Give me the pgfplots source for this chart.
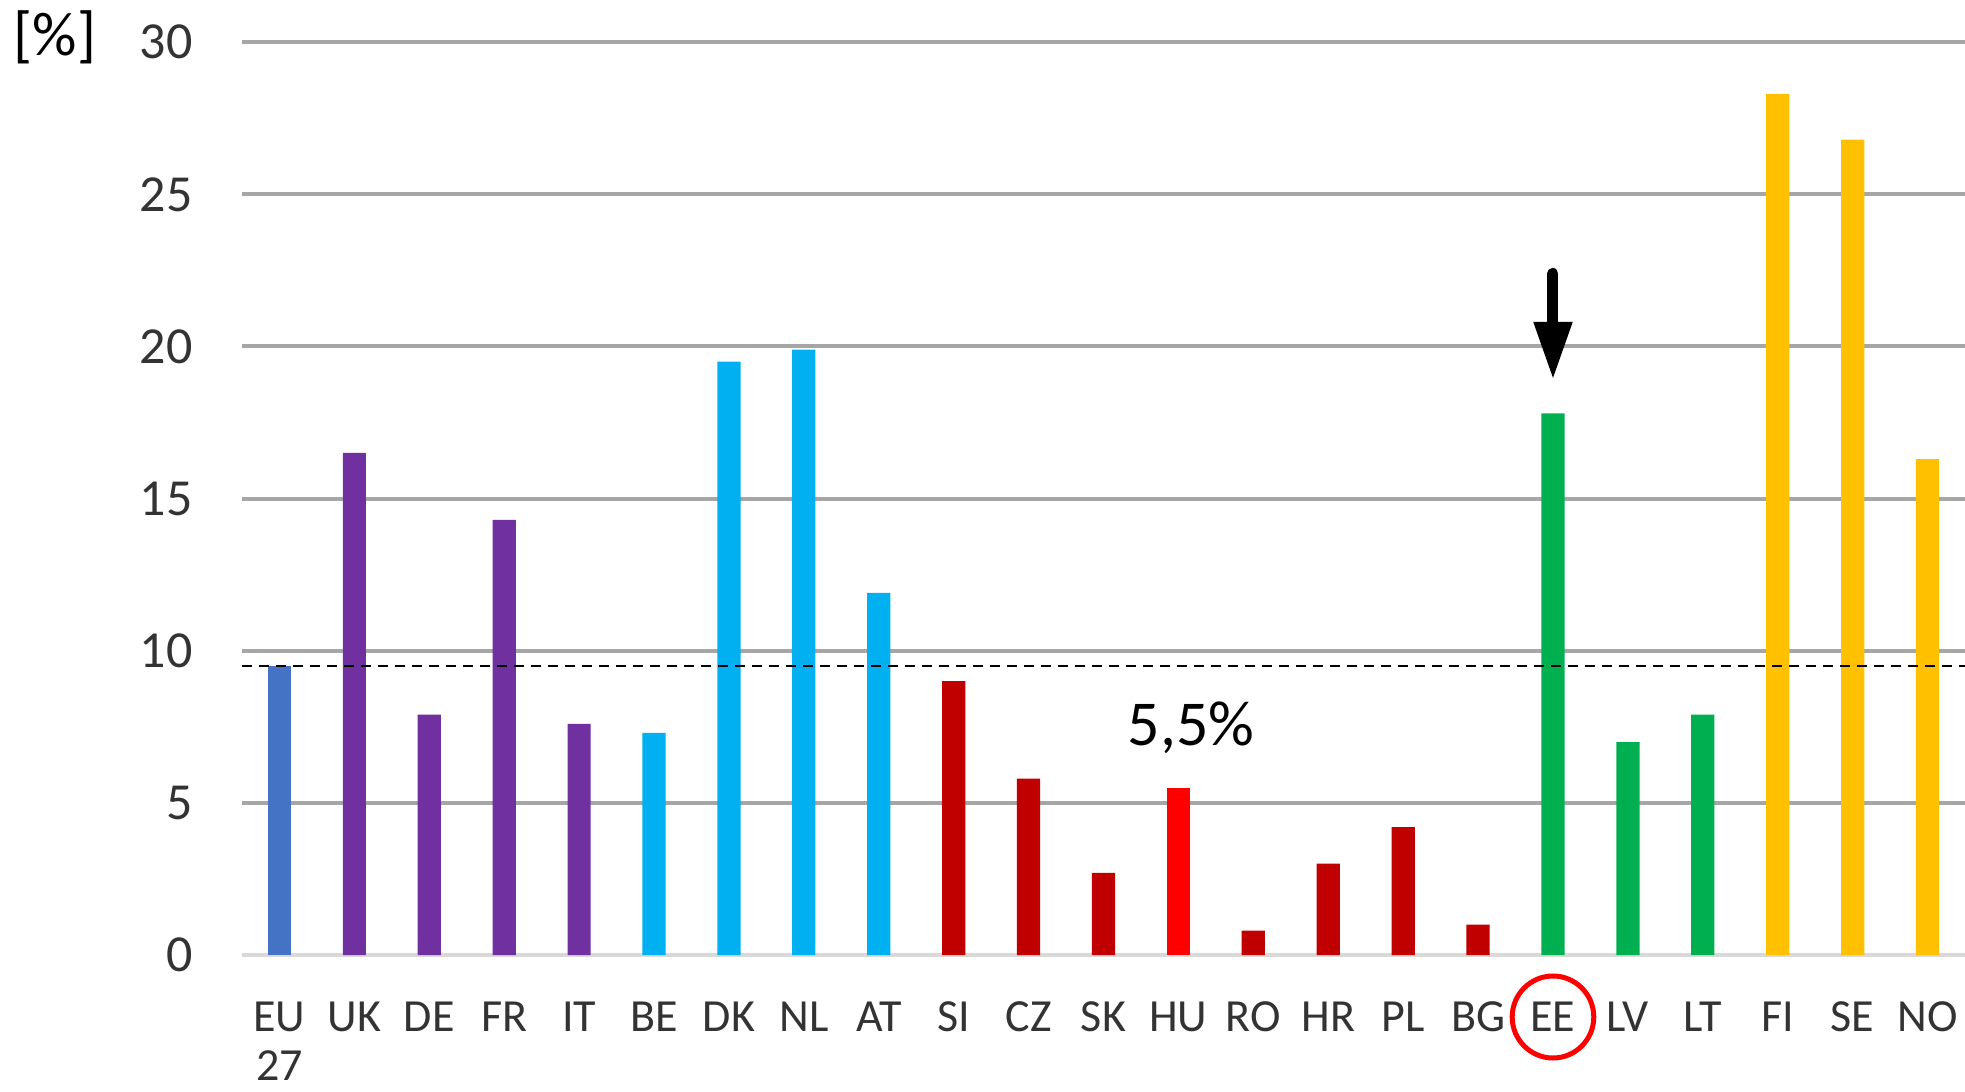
\documentclass[border=0pt]{standalone}
\usepackage{pgfplots}
\pgfplotsset{compat=1.18}
\usepackage{fontspec}
\setmainfont{Carlito}
\usetikzlibrary{arrows.meta}
\definecolor{cEU}{HTML}{4472C4}
\definecolor{cPurple}{HTML}{7030A0}
\definecolor{cBlue}{HTML}{00B0F0}
\definecolor{cDarkRed}{HTML}{C00000}
\definecolor{cRed}{HTML}{FF0000}
\definecolor{cGreen}{HTML}{00B050}
\definecolor{cGold}{HTML}{FFC000}
\definecolor{gridgray}{HTML}{A6A6A6}
\definecolor{basegray}{HTML}{D9D9D9}
\definecolor{ticktext}{HTML}{333333}
\newcommand{\twoline}[2]{\vtop{\baselineskip=24.5pt\lineskiplimit=0pt\halign{\hfil##\hfil\cr #1\cr #2\cr}}}
\begin{document}
\begin{tikzpicture}
\begin{axis}[
  at={(0,0)}, anchor=south west,
  scale only axis, width=861.5pt, height=456.4pt,
  xmin=-0.5, xmax=22.5, ymin=0, ymax=30,
  axis line style={draw=none},
  major tick length=0pt,
  ytick={0,5,...,30},
  ymajorgrids, grid style={color=gridgray, line width=2pt},
  xtick={0,...,22},
  xticklabels={{\twoline{EU}{27}},UK,DE,FR,IT,BE,DK,NL,AT,SI,CZ,SK,HU,RO,HR,PL,BG,EE,LV,LT,FI,SE,NO},
  tick label style={color=ticktext},
  yticklabel style={font=\fontsize{26}{30}\selectfont, anchor=east, inner sep=0pt, xshift=-24.5pt},
  xticklabel style={font=\fontsize{23}{28}\selectfont, anchor=base, inner sep=0pt, yshift=-38pt},
  /pgf/number format/assume math mode=true,
  clip=false,
]
\addplot[draw=basegray, line width=2pt] coordinates {(-0.5,0) (22.5,0)};
\addplot[ybar, bar shift=0pt, bar width=0.31, fill=cEU, draw=none] coordinates {(0,9.5)};
\addplot[ybar, bar shift=0pt, bar width=0.31, fill=cPurple, draw=none] coordinates {(1,16.5) (2,7.9) (3,14.3) (4,7.6)};
\addplot[ybar, bar shift=0pt, bar width=0.31, fill=cBlue, draw=none] coordinates {(5,7.3) (6,19.5) (7,19.9) (8,11.9)};
\addplot[ybar, bar shift=0pt, bar width=0.31, fill=cDarkRed, draw=none] coordinates {(9,9.0) (10,5.8) (11,2.7) (13,0.8) (14,3.0) (15,4.2) (16,1.0)};
\addplot[ybar, bar shift=0pt, bar width=0.31, fill=cRed, draw=none] coordinates {(12,5.5)};
\addplot[ybar, bar shift=0pt, bar width=0.31, fill=cGreen, draw=none] coordinates {(17,17.8) (18,7.0) (19,7.9)};
\addplot[ybar, bar shift=0pt, bar width=0.31, fill=cGold, draw=none] coordinates {(20,28.3) (21,26.8) (22,16.3)};
\addplot[black, line width=1.2pt, dash pattern=on 5pt off 3.5pt] coordinates {(-0.5,9.5) (22.5,9.5)};
\node[font=\fontsize{32}{38}\selectfont, text=black, anchor=base] at (axis cs:12.17,6.9) {5,5\%};
\draw[black, line width=5.5pt, line cap=round, -{Triangle[width=18pt, length=29pt]}] (axis cs:17,22.4) -- (axis cs:17,18.9);
\draw[cRed, line width=2.5pt] ([yshift=-31pt]axis cs:17,0) ellipse[x radius=20.4pt, y radius=20.5pt];
\end{axis}
\node[font=\fontsize{31}{36}\selectfont, text=black] at (-93.5pt,459pt) {[\%]};
\pgfresetboundingbox
\useasboundingbox (-121pt,-68.5pt) rectangle (861.5pt,477.5pt);
\end{tikzpicture}
\end{document}
